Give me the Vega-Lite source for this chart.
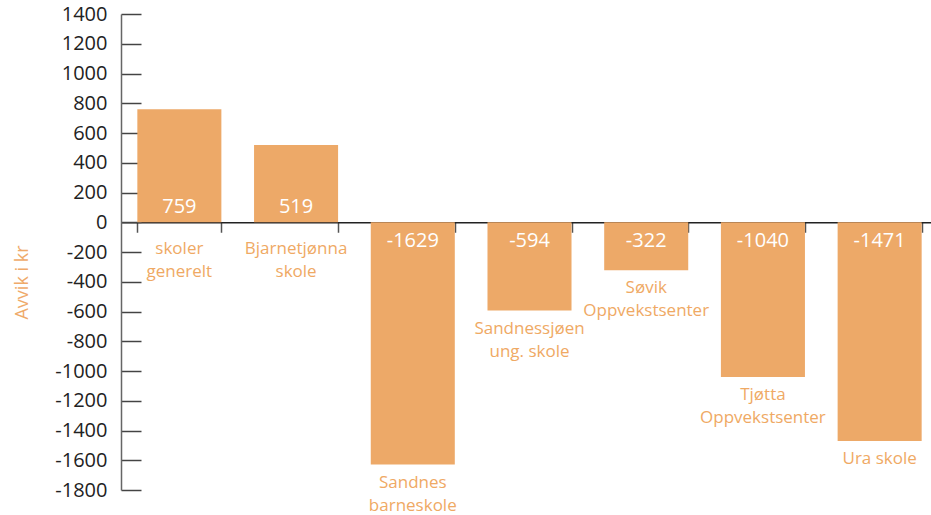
{
  "$schema": "https://vega.github.io/schema/vega-lite/v6.json",
  "width": 817,
  "height": 476,
  "autosize": "none",
  "padding": {"left": 121, "top": 14, "right": 0, "bottom": 25},
  "background": "white",
  "config": {"view": {"stroke": null}, "font": "Open Sans"},
  "data": {
    "values": [
      {"skole": "skoler generelt", "label": "skoler\ngenerelt", "avvik": 759},
      {"skole": "Bjarnetjønna skole", "label": "Bjarnetjønna\nskole", "avvik": 519},
      {"skole": "Sandnes barneskole", "label": "Sandnes\nbarneskole", "avvik": -1629},
      {"skole": "Sandnessjøen ung. skole", "label": "Sandnessjøen\nung. skole", "avvik": -594},
      {"skole": "Søvik Oppvekstsenter", "label": "Søvik\nOppvekstsenter", "avvik": -322},
      {"skole": "Tjøtta Oppvekstsenter", "label": "Tjøtta\nOppvekstsenter", "avvik": -1040},
      {"skole": "Ura skole", "label": "Ura skole", "avvik": -1471}
    ]
  },
  "encoding": {
    "x": {
      "field": "skole",
      "type": "nominal",
      "sort": null,
      "scale": {"paddingInner": 0.28, "paddingOuter": 0.14},
      "axis": {
        "title": null,
        "labels": false,
        "tickBand": "extent",
        "domainColor": "#222222",
        "domainWidth": 1.5,
        "tickColor": "#555555",
        "tickSize": 10,
        "tickWidth": 1.5,
        "offset": -267.75
      }
    }
  },
  "layer": [
    {
      "mark": {"type": "bar", "color": "#EDA968"},
      "encoding": {
        "y": {
          "field": "avvik",
          "type": "quantitative",
          "scale": {"domain": [-1800, 1400], "nice": false, "zero": false},
          "axis": {
            "title": "Avvik i kr",
            "titleColor": "#EFAA6A",
            "titleFontSize": 18,
            "titleFontWeight": "normal",
            "titleX": -99,
            "titleY": 268,
            "titleBaseline": "middle",
            "values": [-1800, -1600, -1400, -1200, -1000, -800, -600, -400, -200, 0, 200, 400, 600, 800, 1000, 1200, 1400],
            "tickCount": 40,
            "labelExpr": "'' + datum.value",
            "labelOverlap": false,
            "labelFlush": false,
            "grid": false,
            "domainColor": "#666666",
            "domainWidth": 1.5,
            "tickColor": "#444444",
            "tickWidth": 1.5,
            "tickSize": -20,
            "labelPadding": 34,
            "labelFontSize": 20,
            "labelColor": "#222222"
          }
        }
      }
    },
    {
      "transform": [{"filter": "datum.avvik > 0"}],
      "mark": {"type": "text", "color": "white", "fontSize": 20, "baseline": "middle", "dy": -15},
      "encoding": {"y": {"datum": 0}, "text": {"field": "avvik"}}
    },
    {
      "transform": [{"filter": "datum.avvik < 0"}],
      "mark": {"type": "text", "color": "white", "fontSize": 20, "baseline": "middle", "dy": 19},
      "encoding": {"y": {"datum": 0}, "text": {"field": "avvik"}}
    },
    {
      "transform": [{"filter": "datum.avvik > 0"}],
      "mark": {"type": "text", "color": "#EFA964", "fontSize": 17, "baseline": "top", "dy": 19, "lineBreak": "\n", "lineHeight": 23},
      "encoding": {"y": {"datum": 0}, "text": {"field": "label"}}
    },
    {
      "transform": [{"filter": "datum.avvik < 0"}],
      "mark": {"type": "text", "color": "#EFA964", "fontSize": 17, "baseline": "top", "dy": 10, "lineBreak": "\n", "lineHeight": 23},
      "encoding": {"y": {"field": "avvik", "type": "quantitative"}, "text": {"field": "label"}}
    }
  ]
}
